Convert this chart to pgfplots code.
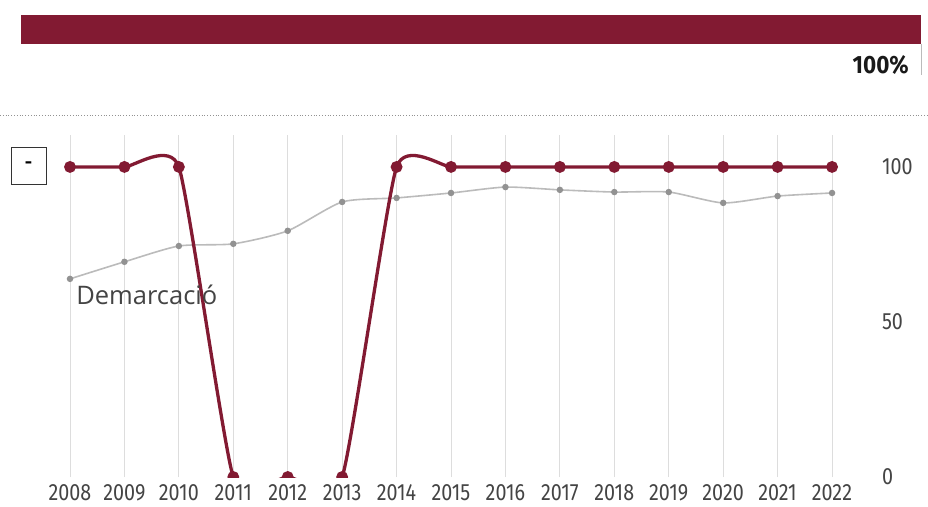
\documentclass[border=0pt]{standalone}
\usepackage{pgfplots}
\pgfplotsset{compat=1.18}
\usepackage{fontspec}
\setmainfont{Fira Sans}
\newfontfamily\condfont[FakeStretch=0.84]{Fira Sans}
\newfontfamily\boldcond[FakeStretch=0.9]{Fira Sans}
\newfontfamily\labfont{Open Sans}

\definecolor{wine}{HTML}{821A32}
\definecolor{lgray}{HTML}{BBBBBB}
\definecolor{mgray}{HTML}{929292}
\definecolor{gridc}{HTML}{DDDDDD}
\definecolor{txt}{HTML}{444444}

\begin{document}
\begin{tikzpicture}[x=1pt,y=1pt]
  \useasboundingbox (0,0) rectangle (928,506);
  % top bar
  \fill[wine] (21,462) rectangle (921,491);
  \draw[lgray, line width=1pt] (921,462) -- (921,431);
  \node[anchor=east, inner sep=0pt, font=\boldcond\bfseries\fontsize{25}{27}\selectfont, text=black!90] at (909,441) {100\%};
  \draw[mgray, line width=0.8pt, dotted] (0,391) -- (928,391);
  % small box
  \draw[black!80, line width=0.8pt] (11,322) rectangle (46,359);
  \node[font=\bfseries\fontsize{18}{20}\selectfont] at (28.5,341) {-};

  \begin{axis}[
      at={(15.57pt,29pt)}, anchor=south west,
      scale only axis,
      width=870.9pt, height=342pt,
      xmin=2007, xmax=2023,
      ymin=0, ymax=110.3,
      axis line style={draw=none},
      xtick={2008,2009,...,2022},
      ytick={0,50,100},
      major tick length=0pt,
      xmajorgrids,
      grid style={gridc, line width=0.8pt},
      x tick label style={/pgf/number format/1000 sep={}, font=\condfont\fontsize{23.5}{25}\selectfont, text=txt, yshift=-4pt},
      yticklabel pos=right,
      y tick label style={anchor=west, xshift=-8pt, font=\condfont\fontsize{23.5}{25}\selectfont, text=txt},
      /pgf/number format/assume math mode=true,
      clip=true,
      clip marker paths=true,
    ]
    \addplot[lgray, line width=1.6pt, smooth, tension=0.4,
             mark=*, mark size=2.4pt, mark options={fill=mgray, draw=mgray}]
      coordinates {
        (2008,63.9) (2009,69.4) (2010,74.5) (2011,75.2) (2012,79.4)
        (2013,88.7) (2014,90.0) (2015,91.6) (2016,93.5) (2017,92.6)
        (2018,91.9) (2019,91.9) (2020,88.4) (2021,90.6) (2022,91.6)
      };
    \addplot[wine, line width=3.3pt, smooth, tension=0.3,
             mark=*, mark size=4.2pt, mark options={fill=wine, draw=wine}]
      coordinates {
        (2008,100) (2009,100) (2010,100) (2011,0) (2012,0)
        (2013,0) (2014,100) (2015,100) (2016,100) (2017,100)
        (2018,100) (2019,100) (2020,100) (2021,100) (2022,100)
      };
    \node[anchor=west, font=\labfont\fontsize{25.5}{27}\selectfont, text=txt] at (axis cs:2008.05,58.7) {Demarcació};
  \end{axis}
\end{tikzpicture}
\end{document}
